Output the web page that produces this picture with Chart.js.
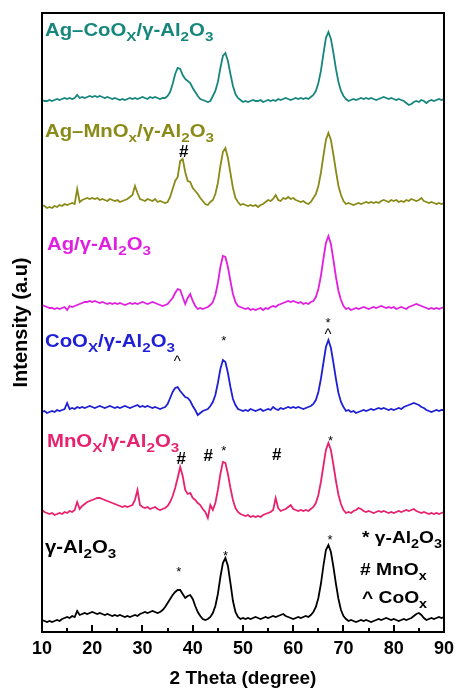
<!DOCTYPE html>
<html>
<head>
<meta charset="utf-8">
<script src="https://cdn.jsdelivr.net/npm/chart.js@4.4.1/dist/chart.umd.min.js"></script>
<style>
  html, body { margin: 0; padding: 0; background: #fff; }
</style>
</head>
<body>
<canvas id="xrdChart" width="460" height="690"></canvas>
<script>
// 2 theta sampling grid, 10..90 in 0.5 degree steps
const twoTheta = [];
for (let t = 10; t <= 90; t += 0.5) twoTheta.push(t);

// intensities above each pattern's own baseline (a.u.), one row = 5 degrees
const gammaAl2O3 = [
  0, -1, -2, -1, -2, -1, 0, -1, 1, 2,
  3, 2, 4, 3, 9, 5, 6, 7, 6, 7,
  8, 7, 6, 7, 6, 5, 6, 5, 4, 5,
  4, 5, 4, 3, 4, 3, 4, 5, 4, 6,
  7, 8, 7, 8, 9, 8, 7, 8, 10, 13,
  17, 21, 25, 28, 30, 30, 26, 22, 24, 25,
  21, 14, 8, 4, 1, 0, 1, 3, 7, 14,
  26, 43, 57, 62, 54, 37, 19, 8, 3, 1,
  2, 1, 2, 1, 2, 3, 2, 1, 2, 3,
  2, 3, 4, 3, 4, 5, 6, 4, 3, 2,
  1, 2, 3, 2, 3, 4, 3, 5, 8, 13,
  22, 36, 54, 70, 75, 68, 53, 36, 21, 10,
  4, 1, -1, 0, -1, -2, -1, 0, -1, 0,
  -1, -2, -1, 0, 1, 0, 1, 2, 1, 0,
  1, 0, -1, 0, 1, 0, 1, 2, 4, 6,
  7, 5, 2, 0, 1, 2, 1, 2, 3, 2,
  3
];
const mnOxAl2O3 = [
  2, 0, -1, -2, -1, -3, -2, -1, -2, 0,
  -1, 1, 0, 2, 10, 3, 6, 8, 10, 11,
  12, 13, 14, 14, 13, 12, 11, 10, 9, 8,
  7, 6, 5, 6, 5, 6, 7, 12, 22, 7,
  5, 4, 5, 3, 4, 5, 3, 2, 3, 4,
  6, 10, 16, 24, 34, 45, 36, 22, 18, 19,
  14, 12, 9, 7, 3, 0, -6, 7, 2, 9,
  22, 38, 50, 49, 38, 24, 12, 4, 0, -2,
  -3, -4, -3, -5, -4, -5, -4, -5, -3, -2,
  -1, 0, 2, 14, 4, 1, 2, 3, 5, 7,
  3, 2, 1, 2, 1, 2, 1, 3, 5, 9,
  17, 30, 46, 62, 69, 62, 47, 31, 17, 8,
  2, -1, 0, -1, 1, 2, 4, 3, 1, 0,
  1, 0, -1, 0, 1, 0, 1, 0, -1, 0,
  -1, 0, 1, 0, 1, 2, 1, 2, 3, 1,
  0, -1, 0, -1, -2, -1, -2, -1, -2, -1,
  0
];
const coOxAl2O3 = [
  -2, -1, -3, -2, -1, -2, 0, -1, 0, 1,
  7, 1, 2, 1, 3, 2, 3, 2, 3, 4,
  3, 2, 3, 4, 3, 2, 3, 4, 3, 2,
  3, 2, 3, 4, 3, 2, 3, 4, 5, 3,
  4, 3, 4, 3, 2, 3, 2, 1, 2, 3,
  6, 12, 18, 22, 23, 19, 16, 13, 12, 9,
  4, 0, -5, -3, -1, 0, 1, 4, 8, 15,
  27, 41, 50, 48, 37, 23, 11, 5, 1, 0,
  -1, 0, -1, 1, 0, -1, 0, 1, -1, 0,
  1, 0, 3, 1, 0, 2, 1, 2, 3, 2,
  3, 2, 3, 2, 1, 2, 3, 4, 6, 10,
  18, 31, 47, 63, 70, 62, 47, 31, 17, 8,
  3, -1, 0, -2, -1, -3, -2, -1, 0, -1,
  0, 1, 0, 1, 2, 1, 2, 1, 0, 1,
  0, 1, 2, 1, 3, 4, 5, 6, 7, 6,
  5, 3, 2, 0, -1, -2, -1, 0, -1, 0,
  0
];
const agAl2O3 = [
  2, 1, 0, -1, -1, -2, -1, -2, -1, 0,
  -3, 1, 0, 1, 2, 3, 4, 5, 5, 6,
  5, 6, 5, 4, 5, 4, 3, 4, 3, 4,
  3, 4, 3, 2, 3, 4, 3, 4, 3, 4,
  5, 4, 3, 4, 5, 4, 3, 2, 1, 2,
  3, 6, 9, 14, 18, 17, 10, 3, 9, 13,
  6, 1, -2, -1, -2, -1, 0, 2, 5, 12,
  24, 40, 51, 50, 40, 26, 13, 5, 1, 0,
  -1, -2, -1, -3, -2, -3, -2, -1, -3, -1,
  -2, 0, 1, 0, 2, 3, 4, 5, 6, 5,
  6, 5, 4, 5, 3, 4, 3, 5, 6, 10,
  18, 31, 48, 64, 71, 63, 47, 30, 16, 7,
  1, -2, -1, -3, -2, -1, -2, -1, 0, -1,
  -2, -1, 0, -1, 0, 1, 0, -1, 0, -1,
  0, -2, -1, 0, -1, -2, 0, 1, 2, 3,
  2, 1, 0, -1, -2, -1, -2, -1, -2, -1,
  0
];
const agMnOxAl2O3 = [
  0, -1, -3, -2, -3, -1, -2, 0, -1, 1,
  0, 1, 2, 1, 16, 3, 5, 6, 7, 6,
  7, 6, 7, 5, 6, 5, 4, 6, 5, 4,
  5, 3, 4, 5, 6, 8, 10, 19, 12, 6,
  5, 4, 6, 5, 4, 6, 3, 4, 3, 2,
  3, 8, 16, 24, 28, 44, 46, 33, 24, 23,
  17, 14, 11, 7, 4, 1, 0, 3, 5, 11,
  22, 39, 53, 57, 47, 32, 17, 7, 3, 0,
  1, 0, -1, 0, -1, 0, -2, 0, 1, 3,
  5, 4, 6, 10, 5, 4, 7, 6, 8, 6,
  7, 5, 4, 3, 4, 2, 1, 3, 7, 11,
  19, 32, 49, 65, 72, 65, 50, 34, 19, 10,
  4, 1, 2, 1, 0, 1, 2, 1, 2, 3,
  2, 3, 2, 3, 2, 4, 5, 4, 3, 5,
  4, 5, 3, 4, 3, 5, 4, 6, 5, 4,
  5, 7, 4, 3, 2, 3, 2, 1, 2, 1,
  2
];
const agCoOxAl2O3 = [
  0, -1, -1, 0, -1, 0, 1, 0, 1, 2,
  1, 2, 1, 2, 5, 2, 3, 2, 3, 4,
  3, 4, 3, 4, 3, 2, 3, 2, 1, 2,
  1, 0, 1, 0, 1, 2, 1, 2, 1, 2,
  3, 2, 1, 3, 2, 3, 2, 1, 2, 2,
  4, 8, 16, 26, 32, 31, 25, 21, 19, 17,
  12, 8, 4, 1, 0, -1, -2, -1, 4, 9,
  18, 32, 44, 47, 39, 26, 14, 6, 2, 0,
  -2, -1, -2, -1, 0, -1, -1, 0, -2, -1,
  0, -1, 0, -1, 1, 0, 1, 2, 1, 0,
  1, 2, 1, 2, 1, 2, 1, 3, 5, 9,
  17, 29, 46, 62, 68, 61, 47, 31, 18, 9,
  4, 1, -1, 0, 1, 0, 1, 2, 1, 2,
  1, 2, 1, 0, 1, 2, 3, 2, 1, 2,
  1, 0, 1, 0, -1, -3, -5, -4, -2, -1,
  -2, 0, -1, -3, -1, 0, -1, 0, 1, 0,
  1
];

// bottom to top
const sampleSeries = [gammaAl2O3, mnOxAl2O3, coOxAl2O3, agAl2O3, agMnOxAl2O3, agCoOxAl2O3];
const sampleNames = ['γ-Al2O3', 'MnOx/γ-Al2O3', 'CoOx/γ-Al2O3', 'Ag/γ-Al2O3', 'Ag–MnOx/γ-Al2O3', 'Ag–CoOx/γ-Al2O3'];
const stackOffset = [12, 120, 222, 325, 427, 532];
const sampleColors = ['#000000', '#e8226e', '#1f1fd6', '#e21ee2', '#8a8a18', '#17877d'];
const xTicks = [10, 20, 30, 40, 50, 60, 70, 80, 90];

const FONT = '"Liberation Sans", Arial, sans-serif';

// label text pieces, "_" = subscript
const sampleLabels = [
  { parts: ['γ-Al', '_2', 'O', '_3'], x: 45, y: 553 },
  { parts: ['MnO', '_X', '/γ-Al', '_2', 'O', '_3'], x: 47, y: 447 },
  { parts: ['CoO', '_X', '/γ-Al', '_2', 'O', '_3'], x: 45, y: 347 },
  { parts: ['Ag/γ-Al', '_2', 'O', '_3'], x: 47, y: 250 },
  { parts: ['Ag–MnO', '_x', '/γ-Al', '_2', 'O', '_3'], x: 45, y: 137 },
  { parts: ['Ag–CoO', '_X', '/γ-Al', '_2', 'O', '_3'], x: 45, y: 36 }
];

// phase markers above the peaks (x in 2θ, y in a.u.)
const peakMarks = [
  { s: '#', x: 38.2, y: 480 },
  { s: '^', x: 36.9, y: 273 }, { s: '*', x: 46.2, y: 294 },
  { s: '^', x: 66.9, y: 300 }, { s: '*', x: 66.9, y: 312 },
  { s: '#', x: 37.7, y: 173 }, { s: '#', x: 43.1, y: 176 },
  { s: '*', x: 46.2, y: 184 }, { s: '#', x: 56.7, y: 177 }, { s: '*', x: 67.4, y: 194 },
  { s: '*', x: 37.2, y: 63 }, { s: '*', x: 46.5, y: 79 }, { s: '*', x: 67.3, y: 95 }
];

const phaseKey = [
  { parts: ['* γ-Al', '_2', 'O', '_3'], x: 362, y: 543 },
  { parts: ['# MnO', '_x'], x: 360, y: 575 },
  { parts: ['^ CoO', '_x'], x: 362, y: 603 }
];

function drawRich(ctx, parts, x, y, size, color, stretch) {
  ctx.save();
  ctx.translate(x, y);
  ctx.scale(stretch, 1);
  ctx.fillStyle = color;
  ctx.textAlign = 'left';
  ctx.textBaseline = 'alphabetic';
  let cx = 0;
  parts.forEach(p => {
    const sub = p.startsWith('_');
    const txt = sub ? p.slice(1) : p;
    ctx.font = `bold ${sub ? size * 0.75 : size}px ${FONT}`;
    ctx.fillText(txt, cx, sub ? size * 0.28 : 0);
    cx += ctx.measureText(txt).width;
  });
  ctx.restore();
}

const xrdDecor = {
  id: 'xrdDecor',
  afterDatasetsDraw(chart) {
    const { ctx, chartArea: a, scales: { x, y } } = chart;
    ctx.save();
    // frame
    ctx.strokeStyle = '#000';
    ctx.lineWidth = 2;
    ctx.strokeRect(a.left, a.top, a.right - a.left, a.bottom - a.top);
    // inward ticks
    for (let v = 10; v <= 90; v += 5) {
      const px = Math.round(x.getPixelForValue(v));
      ctx.beginPath();
      ctx.moveTo(px, a.bottom);
      ctx.lineTo(px, a.bottom - (v % 10 === 0 ? 7 : 4));
      ctx.stroke();
    }
    // sample labels
    sampleLabels.forEach((l, i) => drawRich(ctx, l.parts, l.x, l.y, 18, sampleColors[i], 1.13));
    // peak markers
    ctx.fillStyle = '#000';
    ctx.textAlign = 'center';
    ctx.textBaseline = 'middle';
    peakMarks.forEach(m => {
      const size = m.s === '*' ? 13 : (m.s === '#' ? 17 : 15);
      ctx.font = `${m.s === '#' ? 'bold ' : ''}${size}px ${FONT}`;
      const dy = m.s === '*' ? 3 : (m.s === '^' ? 3 : 0);
      ctx.fillText(m.s, x.getPixelForValue(m.x), y.getPixelForValue(m.y) + dy);
    });
    phaseKey.forEach(k => drawRich(ctx, k.parts, k.x, k.y, 17, '#000', 1.13));
    ctx.restore();
  }
};

new Chart(document.getElementById('xrdChart'), {
  type: 'line',
  data: {
    datasets: sampleSeries.map((s, i) => ({
      label: sampleNames[i],
      data: s.map((v, j) => ({ x: twoTheta[j], y: v + stackOffset[i] })),
      borderColor: sampleColors[i],
      borderWidth: 1.8,
      pointRadius: 0,
      tension: 0,
      fill: false
    }))
  },
  options: {
    responsive: false,
    animation: false,
    layout: { padding: { top: 13, right: 13, left: 0, bottom: 0 } },
    plugins: { legend: { display: false }, tooltip: { enabled: false } },
    scales: {
      x: {
        type: 'linear',
        min: 10,
        max: 90,
        afterBuildTicks: s => { s.ticks = xTicks.map(v => ({ value: v })); },
        afterFit: s => { s.height = 58; },
        grid: { display: false, drawTicks: false },
        border: { display: false },
        ticks: { padding: 6, color: '#000', font: { family: FONT, size: 18, weight: 'bold' }, maxRotation: 0 },
        title: {
          display: true,
          text: '2 Theta (degree)',
          color: '#000',
          font: { family: FONT, size: 19, weight: 'bold' },
          padding: { top: 0, bottom: 0 }
        }
      },
      y: {
        min: 0,
        max: 619,
        afterFit: s => { s.width = 42; },
        grid: { display: false, drawTicks: false },
        border: { display: false },
        ticks: { display: false },
        title: {
          display: true,
          text: 'Intensity (a.u)',
          color: '#000',
          font: { family: FONT, size: 20, weight: 'bold' },
          padding: { top: 9, bottom: 0 }
        }
      }
    }
  },
  plugins: [xrdDecor]
});
</script>
</body>
</html>
